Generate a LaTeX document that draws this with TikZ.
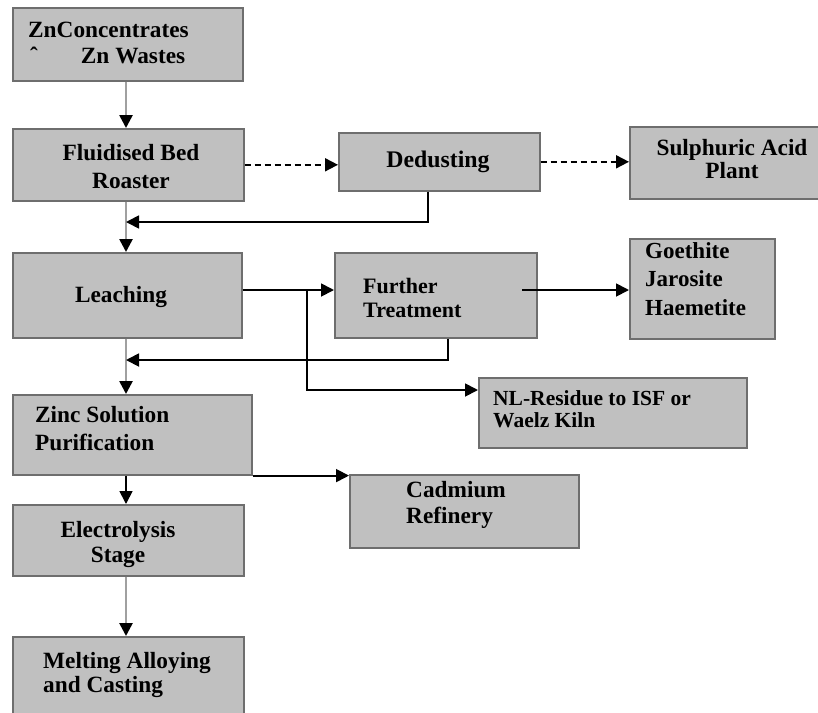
\documentclass[tikz,border=0pt]{standalone}
\usepackage{fontspec}
\setmainfont{Liberation Serif}
\usetikzlibrary{arrows.meta}
\definecolor{boxfill}{HTML}{C0C0C0}
\definecolor{boxedge}{HTML}{6E6E6E}
\definecolor{lineg}{HTML}{A0A0A0}
\begin{document}
\begin{tikzpicture}[x=1pt,y=-1pt,
  box/.style={draw=boxedge, fill=boxfill, line width=1.6pt, inner sep=0pt, anchor=north west},
  txt/.style={font=\bfseries\fontsize{23.3}{28}\selectfont, align=left, inner sep=0pt, anchor=base west},
  ctxt/.style={font=\bfseries\fontsize{23.3}{28}\selectfont, align=center, inner sep=0pt, anchor=base},
  grayline/.style={draw=lineg, line width=2.6pt},
  blk/.style={draw=black, line width=1.8pt},
  tip/.style={-{Triangle[length=13pt,width=13pt,color=black]}},
  dashline/.style={dash pattern=on 6pt off 4pt}
]
\useasboundingbox (0,0) rectangle (818,712);
\clip (0,0) rectangle (818,712);
\fill[white] (0,0) rectangle (818,712);

% boxes
\node[box, minimum width=230pt, minimum height=73pt] (zn) at (12,7) {};
\node[box, minimum width=231pt, minimum height=72pt] (fbr) at (12,128) {};
\node[box, minimum width=201pt, minimum height=58pt] (ded) at (338,132) {};
\node[box, minimum width=205pt, minimum height=72pt] (sap) at (629,126) {};
\node[box, minimum width=229pt, minimum height=85pt] (lea) at (12,252) {};
\node[box, minimum width=202pt, minimum height=85pt] (ft) at (334,252) {};
\node[box, minimum width=145pt, minimum height=100pt] (geo) at (629,238) {};
\node[box, minimum width=268pt, minimum height=70pt] (nl) at (478,377) {};
\node[box, minimum width=239pt, minimum height=80pt] (zsp) at (12,394) {};
\node[box, minimum width=229pt, minimum height=73pt] (cad) at (349,474) {};
\node[box, minimum width=231pt, minimum height=71pt] (ele) at (12,504) {};
\node[box, minimum width=231pt, minimum height=90pt] (mel) at (12,636) {};

% texts (anchor = baseline of the last line)
\node[txt, font=\bfseries\fontsize{23.3}{26}\selectfont] (tzn) at (28,63) {ZnConcentrates\\\hspace{2pt}ˆ\hspace{43pt}Zn Wastes};
\node[ctxt] (tfbr) at (131,188) {Fluidised Bed\\Roaster};
\node[ctxt, font=\bfseries\fontsize{23.8}{28}\selectfont] (tded) at (438,167) {Dedusting};
\node[ctxt, font=\bfseries\fontsize{23.3}{18}\selectfont] (tsap) at (732,178) {Sulphuric Acid\\Plant};
\node[ctxt] (tlea) at (121,302) {Leaching};
\node[txt, font=\bfseries\fontsize{22}{24}\selectfont] (tft) at (363,317) {Further\\Treatment};
\node[txt, font=\bfseries\fontsize{23}{28.5}\selectfont] (tgeo) at (645,315) {Goethite\\Jarosite\\Haemetite};
\node[txt, font=\bfseries\fontsize{21.5}{22}\selectfont] (tnl) at (493,427) {NL-Residue to ISF or\\Waelz Kiln};
\node[txt] (tzsp) at (35,450) {Zinc Solution\\Purification};
\node[txt, font=\bfseries\fontsize{23.3}{26}\selectfont] (tcad) at (406,523) {Cadmium\\Refinery};
\node[ctxt, font=\bfseries\fontsize{23.3}{25}\selectfont] (tele) at (118,562) {Electrolysis\\Stage};
\node[txt, font=\bfseries\fontsize{23.3}{24}\selectfont] (tmel) at (43,692) {Melting Alloying\\and Casting};

% helper coordinates
\coordinate (spine) at (126,0);
\coordinate (r1) at (126,222);
\coordinate (d1) at (428,0);
\coordinate (b1) at (307,290);
\coordinate (b2) at (307,390);
\coordinate (c1) at (522,290);
\coordinate (d2) at (448,0);
\coordinate (r2) at (126,360);

% main column
\draw[grayline, tip] (zn.south -| spine) -- (fbr.north -| spine);
\draw[grayline, tip] (fbr.south -| spine) -- (lea.north -| spine);
\draw[grayline, tip] (lea.south -| spine) -- (zsp.north -| spine);
\draw[blk, tip] (zsp.south -| spine) -- (ele.north -| spine);
\draw[grayline, tip] (ele.south -| spine) -- (mel.north -| spine);

% gas line
\draw[blk, dashline, tip] (fbr.east) -- (ded.west |- fbr.east);
\draw[blk, dashline, tip] (ded.east) -- (sap.west |- ded.east);
\draw[blk, tip] (ded.south -| d1) |- (r1);

% leaching side
\draw[blk, tip] (lea.east |- b1) -- (ft.west |- b1);
\draw[blk, tip] (b1) |- (nl.west |- b2);
\draw[blk, tip] (c1) -- (geo.west |- c1);
\draw[blk, tip] (ft.south -| d2) |- (r2);

% cadmium
\draw[blk, tip] (zsp.south east) -- (cad.north west |- zsp.south east);
\end{tikzpicture}
\end{document}
